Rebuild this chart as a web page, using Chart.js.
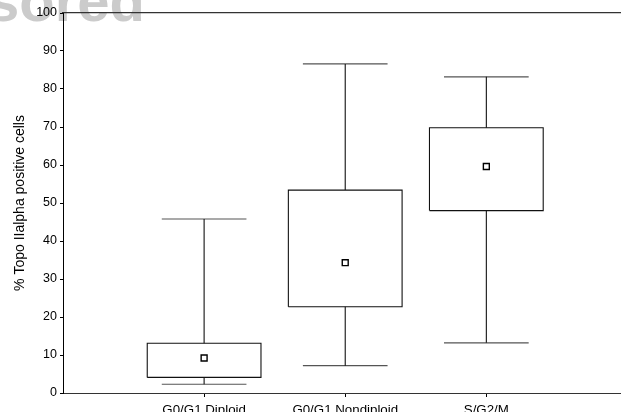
<!DOCTYPE html>
<html>
<head>
<meta charset="utf-8">
<script src="https://cdn.jsdelivr.net/npm/chart.js@4"></script>
<style>
  html, body { margin: 0; padding: 0; background: #fff; overflow: hidden; }
  #wrap { width: 621px; height: 412px; position: relative; overflow: hidden; }
</style>
</head>
<body>
<div id="wrap"><canvas id="c" width="626" height="412"></canvas></div>
<script>
// Distribution of Topo IIalpha positive cells per cell-cycle fraction
const categories   = ['G0/G1 Diploid', 'G0/G1 Nondiploid', 'S/G2/M'];
const whiskerLow   = [2.3, 7.2, 13.2];
const boxLow       = [4.1, 22.7, 48.0];
const boxHigh      = [13.1, 53.4, 69.8];
const whiskerHigh  = [45.8, 86.6, 83.2];
const means        = [9.2, 34.3, 59.6];
const yTickValues  = [0, 10, 20, 30, 40, 50, 60, 70, 80, 90, 100];
const yTitle       = '% Topo IIalpha positive cells';
const stampText    = 'sored';

const BOX_HALF = 0.403;   // half box width in category units
const CAP_HALF = 0.30;    // half whisker-cap width

const datasets = [];
categories.forEach((name, i) => {
  const c = i + 1;
  const line = { showLine: true, pointRadius: 0, pointHoverRadius: 0, fill: false,
                 borderColor: '#111', borderWidth: 1.1, tension: 0 };
  // box outline
  datasets.push(Object.assign({}, line, {
    data: [
      { x: c - BOX_HALF, y: boxLow[i] }, { x: c + BOX_HALF, y: boxLow[i] },
      { x: c + BOX_HALF, y: boxHigh[i] }, { x: c - BOX_HALF, y: boxHigh[i] },
      { x: c - BOX_HALF, y: boxLow[i] }
    ]
  }));
  // whisker stems
  datasets.push(Object.assign({}, line, { data: [{ x: c, y: boxHigh[i] }, { x: c, y: whiskerHigh[i] }] }));
  datasets.push(Object.assign({}, line, { data: [{ x: c, y: boxLow[i] }, { x: c, y: whiskerLow[i] }] }));
  // whisker caps
  datasets.push(Object.assign({}, line, { borderColor: '#555',
    data: [{ x: c - CAP_HALF, y: whiskerHigh[i] }, { x: c + CAP_HALF, y: whiskerHigh[i] }] }));
  datasets.push(Object.assign({}, line, { borderColor: '#555',
    data: [{ x: c - CAP_HALF, y: whiskerLow[i] }, { x: c + CAP_HALF, y: whiskerLow[i] }] }));
});
// mean markers
datasets.push({
  showLine: false,
  data: means.map((m, i) => ({ x: i + 1, y: m })),
  pointStyle: 'rect', pointRadius: 4.2, pointHoverRadius: 4.2,
  pointBackgroundColor: '#fff', pointBorderColor: '#000', pointBorderWidth: 1.4
});

const backdrop = {
  id: 'backdrop',
  beforeDraw(chart) {
    const ctx = chart.ctx;
    ctx.save();
    ctx.fillStyle = '#fff';
    ctx.fillRect(0, 0, chart.width, chart.height);
    ctx.fillStyle = '#cbcbcb';
    ctx.font = 'bold 58px "Liberation Sans", Arial, sans-serif';
    ctx.textBaseline = 'alphabetic';
    ctx.textAlign = 'left';
    ctx.fillText(stampText, -13, 21);
    ctx.restore();
  }
};

const family = '"Liberation Sans", Arial, sans-serif';

new Chart(document.getElementById('c'), {
  type: 'scatter',
  data: { datasets },
  plugins: [backdrop],
  options: {
    responsive: false,
    animation: false,
    events: [],
    layout: { padding: { left: 0, right: 0, top: 13, bottom: 0 } },
    plugins: { legend: { display: false }, tooltip: { enabled: false } },
    scales: {
      x: {
        type: 'linear', position: 'bottom', min: 0, max: 3.95,
        afterBuildTicks: (s) => { s.ticks = categories.map((_, i) => ({ value: i + 1 })); },
        afterFit: (s) => { s.height = 19; },
        ticks: {
          autoSkip: false, maxRotation: 0, padding: 5, color: '#000',
          font: { family, size: 13.3 },
          callback: (v) => categories[v - 1] || ''
        },
        grid: { drawOnChartArea: false, drawTicks: true, tickLength: 4, color: '#000' },
        border: { display: true, color: '#333', width: 1 }
      },
      x2: {
        type: 'linear', position: 'top', min: 0, max: 3.95,
        afterFit: (s) => { s.height = 0; },
        ticks: { display: false },
        grid: { display: false, drawTicks: false },
        border: { display: true, color: '#333', width: 1.2 }
      },
      y: {
        min: 0, max: 100,
        afterBuildTicks: (s) => { s.ticks = yTickValues.map(v => ({ value: v })); },
        afterFit: (s) => { s.width = 63; },
        ticks: { padding: 3, color: '#000', font: { family, size: 12.5 } },
        grid: { drawOnChartArea: false, drawTicks: true, tickLength: 3, color: '#000' },
        border: { display: true, color: '#000', width: 1 },
        title: { display: true, text: yTitle, color: '#000', font: { family, size: 14 },
                 padding: { top: 12, bottom: 0 } }
      }
    }
  }
});
</script>
</body>
</html>
